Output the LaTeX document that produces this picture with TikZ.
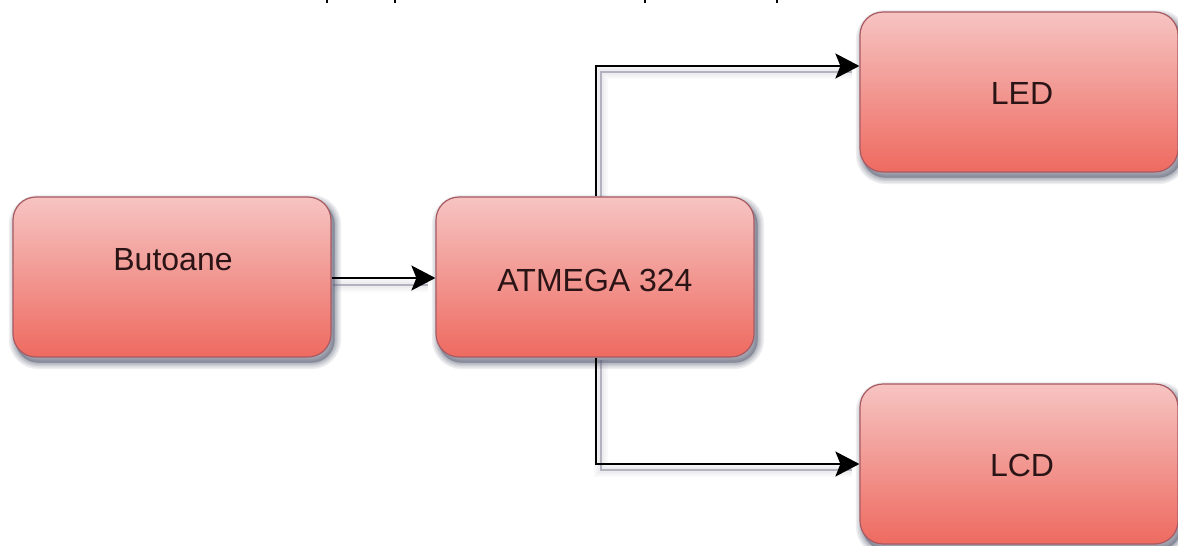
\documentclass[tikz,border=0pt]{standalone}
\usepackage{fontspec}
\setmainfont{Liberation Sans}
\usetikzlibrary{arrows.meta,calc,backgrounds}
\pgfdeclarelayer{shade}
\pgfsetlayers{background,shade,main}
\definecolor{edgec}{HTML}{A85A62}
\definecolor{topc}{HTML}{F6C4C2}
\definecolor{botc}{HTML}{EE6A60}
\definecolor{shc}{HTML}{5A5E74}
\definecolor{txtc}{HTML}{2A1416}
\tikzset{
 x=1pt,y=-1pt,
 blockbox/.style={draw=edgec,line width=1.2pt,rounded corners=23pt,minimum width=318pt,minimum height=160pt,
   top color=topc,bottom color=botc,inner sep=0pt},
 blocktext/.style={text=txtc,font=\fontsize{32}{36}\selectfont,inner sep=0pt},
 softshade/.style={draw=shc,fill=shc,rounded corners=23pt,opacity=.10},
 wire/.style={draw=black,line width=2pt},
 wirehead/.style={wire,-{Stealth[length=24pt,width=25pt,inset=5pt]}},
 ghost/.style={draw=shc,opacity=.4,line width=1.6pt},
 ghostsoft/.style={draw=shc,opacity=.035},
 cuttick/.style={draw=black,line width=2.2pt},
}
\newcommand{\softbox}[1]{%
  \foreach \w in {13,10,7,5,3,1}{
    \path[softshade,line width=\w pt] ($(#1.north west)+(3,5)$) rectangle ($(#1.south east)+(3,5)$);
  }}
\newcommand{\softline}[1]{%
  \foreach \w in {14,10,6}{
    \path[ghostsoft,line width=\w pt] #1;
  }
  \path[ghost] #1;}
\begin{document}
\begin{tikzpicture}
\useasboundingbox (0,0) rectangle (1178,546);
\begin{pgfonlayer}{background}
\fill[white] (0,0) rectangle (1178,546);
\end{pgfonlayer}
\begin{pgfonlayer}{shade}
\softline{(333,285) -- (428,285)}
\softline{(601,197) -- (601,72) -- (852,72)}
\softline{(601,360) -- (601,470) -- (852,470)}
\end{pgfonlayer}
\node[blockbox] (but) at (172,277) {};
\node[blockbox] (atm) at (595,277) {};
\node[blockbox] (led) at (1019,92) {};
\node[blockbox] (lcd) at (1019,464) {};
\begin{pgfonlayer}{shade}
\softbox{but}\softbox{atm}\softbox{led}\softbox{lcd}
\end{pgfonlayer}
\node[blocktext] (butT) at (173,260) {Butoane};
\node[blocktext] (atmT) at (595,280) {ATMEGA 324};
\node[blocktext] (ledT) at (1022,93) {LED};
\node[blocktext] (lcdT) at (1022,465) {LCD};
\draw[wirehead] (but.east |- 0,278) -- (atm.west |- 0,278);
\draw[wirehead] (atm.north -| 596,0) -- (596,66) -- (led.west |- 0,66);
\draw[wirehead] (atm.south -| 596,0) -- (596,464) -- (lcd.west |- 0,464);
\foreach \x in {327,395,645,777}{\draw[cuttick] (\x,0) -- (\x,3);}
\end{tikzpicture}
\end{document}
